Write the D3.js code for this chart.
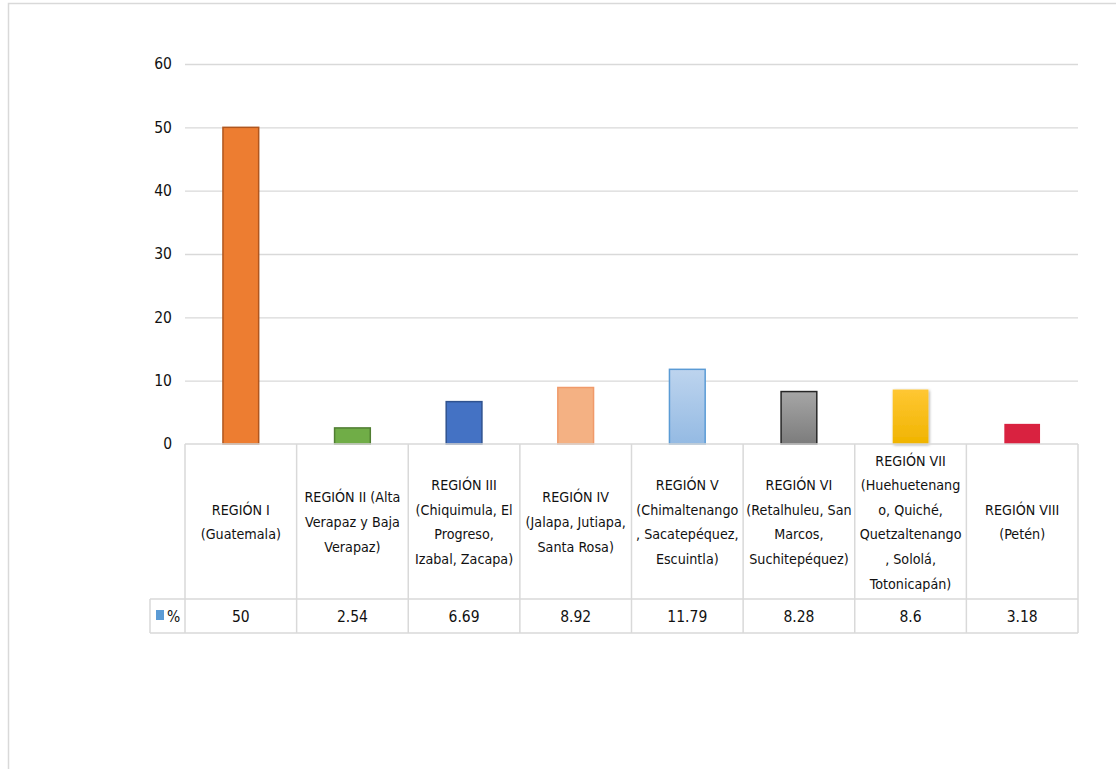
<!DOCTYPE html>
<html>
<head>
<meta charset="utf-8">
<script src="https://cdn.jsdelivr.net/npm/d3@7"></script>
<style>
  html, body { margin: 0; padding: 0; background: #fff; }
  svg { display: block; }
  text { font-family: "Liberation Sans Narrow", "Arial Narrow", "DejaVu Sans Condensed", sans-serif; fill: #111; }
</style>
</head>
<body>
<svg id="chart" width="1116" height="769"></svg>
<script>
const categories = ["REGIÓN I", "REGIÓN II", "REGIÓN III", "REGIÓN IV", "REGIÓN V", "REGIÓN VI", "REGIÓN VII", "REGIÓN VIII"];
const categoryLabels = [
  ["REGIÓN I", "(Guatemala)"],
  ["REGIÓN II (Alta", "Verapaz y Baja", "Verapaz)"],
  ["REGIÓN III", "(Chiquimula, El", "Progreso,", "Izabal, Zacapa)"],
  ["REGIÓN IV", "(Jalapa, Jutiapa,", "Santa Rosa)"],
  ["REGIÓN V", "(Chimaltenango", ", Sacatepéquez,", "Escuintla)"],
  ["REGIÓN VI", "(Retalhuleu, San", "Marcos,", "Suchitepéquez)"],
  ["REGIÓN VII", "(Huehuetenang", "o, Quiché,", "Quetzaltenango", ", Sololá,", "Totonicapán)"],
  ["REGIÓN VIII", "(Petén)"]
];
const values = [50, 2.54, 6.69, 8.92, 11.79, 8.28, 8.6, 3.18];
const valueLabels = ["50", "2.54", "6.69", "8.92", "11.79", "8.28", "8.6", "3.18"];
const seriesName = "%";
const yTicks = [0, 10, 20, 30, 40, 50, 60];

const fills = ["#ED7D31", "#70AD47", "#4472C4", "#F4B183", "url(#gV)", "url(#gVI)", "url(#gVII)", "#D92240"];
const strokes = ["#B0561E", "#507E32", "#2F528F", "#F09A6A", "#5B9BD5", "#262626", "none", "none"];

const svg = d3.select("#chart");
const defs = svg.append("defs");
function grad(id, c1, c2) {
  const g = defs.append("linearGradient").attr("id", id).attr("x1", 0).attr("y1", 0).attr("x2", 0).attr("y2", 1);
  g.append("stop").attr("offset", "0%").attr("stop-color", c1);
  g.append("stop").attr("offset", "100%").attr("stop-color", c2);
}
grad("gV", "#BDD4EE", "#94BAE3");
grad("gVI", "#A6A6A6", "#7C7C7C");
grad("gVII", "#FFC733", "#F0B400");
const shadow = defs.append("filter").attr("id", "sh").attr("x", "-30%").attr("y", "-30%").attr("width", "160%").attr("height", "160%");
shadow.append("feDropShadow").attr("dx", 1).attr("dy", 1).attr("stdDeviation", 1.5).attr("flood-color", "#000").attr("flood-opacity", 0.35);

// outer chart border
svg.append("rect").attr("x", 8.5).attr("y", 3.5).attr("width", 1200).attr("height", 900)
  .attr("fill", "none").attr("stroke", "#d9d9d9").attr("stroke-width", 1.5);

const plotLeft = 185, plotRight = 1078, plotTop = 64, plotBase = 444;
const x = d3.scaleBand().domain(categories).range([plotLeft, plotRight]).padding(0);
const y = d3.scaleLinear().domain([0, 60]).range([plotBase, plotTop]);

// gridlines
svg.append("g").selectAll("line").data(yTicks.filter(t => t > 0)).join("line")
  .attr("x1", plotLeft).attr("x2", plotRight)
  .attr("y1", d => y(d) + 0.5).attr("y2", d => y(d) + 0.5)
  .attr("stroke", "#d9d9d9").attr("stroke-width", 1.3);

// y axis labels
const yAxis = d3.axisLeft(y).tickValues(yTicks).tickSize(0).tickPadding(13).tickFormat(d3.format("d"));
const ya = svg.append("g").attr("transform", `translate(${plotLeft},0)`).call(yAxis);
ya.select(".domain").remove();
ya.selectAll("text").style("font-size", "15.5px").attr("fill", "#111")
  .style("font-family", '"Liberation Sans Narrow", "Arial Narrow", "DejaVu Sans Condensed", sans-serif');

// bars
const bw = x.bandwidth() * 0.32;
svg.append("g").selectAll("rect").data(values).join("rect")
  .attr("x", (d, i) => x(categories[i]) + (x.bandwidth() - bw) / 2)
  .attr("y", d => y(d))
  .attr("width", bw)
  .attr("height", d => plotBase - y(d))
  .attr("fill", (d, i) => fills[i])
  .attr("stroke", (d, i) => strokes[i])
  .attr("stroke-width", 1.5)
  .attr("filter", (d, i) => i === 6 ? "url(#sh)" : null);

// data table
const rowTop = plotBase, rowMid = 599, rowBot = 633, tableLeft = 150;
const tg = svg.append("g").attr("stroke", "#d9d9d9").attr("stroke-width", 1.5);
tg.append("line").attr("x1", plotLeft).attr("x2", plotRight).attr("y1", rowTop).attr("y2", rowTop);
tg.append("line").attr("x1", tableLeft).attr("x2", plotRight).attr("y1", rowMid).attr("y2", rowMid);
tg.append("line").attr("x1", tableLeft).attr("x2", plotRight).attr("y1", rowBot).attr("y2", rowBot);
tg.append("line").attr("x1", tableLeft).attr("x2", tableLeft).attr("y1", rowMid).attr("y2", rowBot);
const colEdges = categories.map(c => x(c)).concat([plotRight]);
tg.selectAll("line.col").data(colEdges).join("line").attr("class", "col")
  .attr("x1", d => d).attr("x2", d => d).attr("y1", rowTop).attr("y2", rowBot);

// header labels
const lh = 24.6;
const hg = svg.append("g");
categoryLabels.forEach((lines, i) => {
  const cx = x(categories[i]) + x.bandwidth() / 2;
  const cy = (rowTop + rowMid) / 2;
  const t = hg.append("text").attr("text-anchor", "middle").style("font-size", "14.2px");
  lines.forEach((ln, j) => {
    t.append("tspan").attr("x", cx)
      .attr("y", cy + (j - (lines.length - 1) / 2) * lh + 5.5)
      .text(ln);
  });
});

// value row
svg.append("g").selectAll("text").data(valueLabels).join("text")
  .attr("x", (d, i) => x(categories[i]) + x.bandwidth() / 2)
  .attr("y", (rowMid + rowBot) / 2 + 6)
  .attr("text-anchor", "middle").style("font-size", "15.5px")
  .text(d => d);

// legend key
svg.append("rect").attr("x", 156).attr("y", 610).attr("width", 8).attr("height", 10).attr("fill", "#5B9BD5");
svg.append("text").attr("x", 167).attr("y", 621.5).style("font-size", "15.5px").text(seriesName);
</script>
</body>
</html>
